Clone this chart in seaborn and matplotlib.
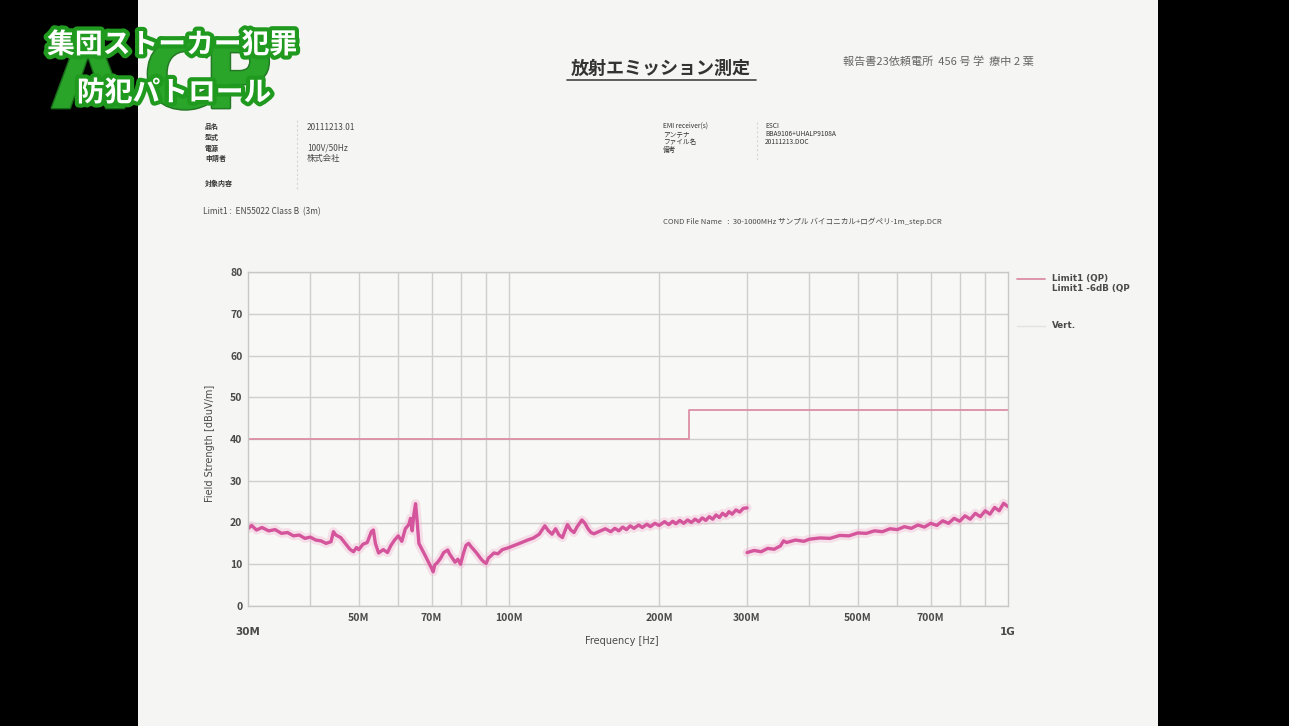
import numpy as np
import pandas as pd
import matplotlib
matplotlib.use("Agg")
import matplotlib.pyplot as plt
import seaborn as sns
from matplotlib import patheffects as pe
from matplotlib.patches import Rectangle
from matplotlib.lines import Line2D
import matplotlib.transforms as mtrans

# ---------------- data ----------------
seg1_freq = [30, 30.5, 31.2, 32, 33, 34, 35, 36, 37, 38, 39, 40, 41, 42, 43, 44,
             44.5, 45, 46, 47, 48, 48.8, 49.5, 50, 51, 52, 53, 53.5, 54, 54.8, 56,
             57.1, 58, 59, 60, 61, 62, 63, 63.5, 64, 64.5, 65, 65.5, 66, 67, 68, 69,
             70, 70.5, 71, 72, 73, 74, 75.4, 76, 77, 78, 79, 80, 81, 82, 83, 84, 85,
             86, 87, 88, 89, 90, 91, 92, 93.3, 95, 97, 100, 103, 106, 109, 112, 115,
             118, 120, 122, 124, 126, 128, 129, 131, 133, 135, 137, 140, 142, 144,
             146, 148, 152, 156, 160, 163, 166, 169, 172, 175, 178, 182, 185, 189,
             192, 196, 200, 205, 209, 213, 216, 220, 224, 228, 232, 236, 240, 244,
             248, 252, 256, 260, 264, 268, 272, 276, 280, 285, 290, 295, 300]
seg1_level = [18.5, 19.3, 18.2, 18.8, 18.0, 18.3, 17.4, 17.6, 16.8, 17.0, 16.2, 16.5,
              15.8, 15.6, 15.0, 15.4, 17.8, 17.0, 16.4, 15.0, 13.6, 13.0, 14.0, 13.5,
              14.8, 15.2, 17.8, 18.2, 15.0, 12.7, 13.5, 12.8, 14.5, 15.8, 16.8, 15.5,
              18.5, 19.5, 21.0, 18.0, 22.0, 24.5, 20.0, 15.0, 13.5, 12.0, 10.5, 9.0,
              8.2, 9.8, 10.5, 11.5, 12.8, 13.4, 12.5, 11.5, 10.5, 11.2, 10.0, 12.5,
              14.5, 15.0, 14.2, 13.5, 12.8, 12.0, 11.2, 10.6, 10.2, 11.5, 12.0, 12.7,
              12.5, 13.5, 14.0, 14.6, 15.2, 15.8, 16.3, 17.2, 19.2, 18.0, 17.2, 18.5,
              17.0, 16.4, 17.5, 19.5, 18.2, 17.6, 19.0, 20.6, 19.8, 18.5, 17.6, 17.3,
              17.9, 18.5, 17.8, 18.6, 18.0, 18.9, 18.3, 19.2, 18.6, 19.4, 18.8, 19.6,
              19.0, 19.8, 19.3, 20.2, 19.5, 20.3, 19.7, 20.5, 19.8, 20.6, 20.0, 20.8,
              20.2, 21.1, 20.5, 21.4, 20.8, 21.8, 21.2, 22.2, 21.6, 22.6, 22.0, 23.0,
              22.5, 23.4, 23.5]

seg2_freq = [300, 310, 320, 330, 340, 350, 355, 360, 375, 390, 400, 420, 440, 460,
             480, 500, 520, 540, 560, 580, 600, 620, 640, 660, 680, 700, 720, 740,
             760, 780, 800, 820, 840, 860, 880, 900, 920, 940, 960, 980, 1000]
seg2_level = [12.8, 13.3, 13.0, 13.8, 13.6, 14.4, 15.6, 15.2, 15.8, 15.5, 16.0, 16.3,
              16.2, 16.9, 16.8, 17.5, 17.4, 18.0, 17.8, 18.5, 18.3, 19.0, 18.6, 19.4,
              18.9, 19.8, 19.3, 20.4, 19.8, 21.0, 20.3, 21.6, 20.8, 22.2, 21.4, 22.8,
              22.0, 23.6, 22.8, 24.6, 23.8]

limit_freq = [30, 230, 230, 1000]
limit_level = [40, 40, 47, 47]

grid_freqs = [40, 50, 60, 70, 80, 90, 100, 200, 300, 400, 500, 600, 700, 800, 900]
grid_labels = ["", "50M", "", "70M", "", "", "100M", "200M", "300M", "", "500M", "",
               "700M", "", ""]
y_ticks = [0, 10, 20, 30, 40, 50, 60, 70, 80]

# ---------------- figure ----------------
W, H = 1289, 726
sns.set_theme(style="white")
plt.rcParams['font.family'] = ['Noto Sans CJK JP', 'DejaVu Sans']

fig = plt.figure(figsize=(W / 100, H / 100), dpi=100)
fig.patch.set_facecolor('black')
fig.add_artist(Rectangle((138 / W, 0), (1158 - 138) / W, 1, transform=fig.transFigure,
                         facecolor='#f5f5f3', edgecolor='none', zorder=0))

def fx(x):
    return x / W

def fy(y):
    return 1 - y / H

TXT = '#4a4a4a'

ax = fig.add_axes([fx(248), fy(606), 760 / W, 334 / H])
ax.set_facecolor('#f8f8f6')

df1 = pd.DataFrame({'freq': seg1_freq, 'level': seg1_level})
df2 = pd.DataFrame({'freq': seg2_freq, 'level': seg2_level})
dfl = pd.DataFrame({'freq': limit_freq, 'level': limit_level})

for d in (df1, df2):
    sns.lineplot(data=d, x='freq', y='level', ax=ax, color='#f2b0d0', lw=6.5,
                 alpha=0.35, sort=False, estimator=None)
    sns.lineplot(data=d, x='freq', y='level', ax=ax, color='#d4559b', lw=2.4,
                 sort=False, estimator=None)
sns.lineplot(data=dfl, x='freq', y='level', ax=ax, color='#dc8fa6', lw=1.3,
             sort=False, estimator=None)

ax.set_xscale('log')
ax.set_xlim(30, 1000)
ax.set_ylim(0, 80)
ax.set_xticks(grid_freqs)
ax.set_xticks([], minor=True)
ax.set_xticklabels(grid_labels)
ax.set_yticks(y_ticks)
ax.set_yticklabels([str(v) for v in y_ticks])
ax.grid(True, color='#cfcfcd', lw=1.0)
ax.tick_params(axis='both', length=0, labelsize=7.5, labelcolor=TXT)
ax.tick_params(axis='x', pad=5)
ax.tick_params(axis='y', pad=4)
for lab in ax.get_xticklabels() + ax.get_yticklabels():
    lab.set_fontweight('bold')
for s in ax.spines.values():
    s.set_color('#c8c8c6')
    s.set_linewidth(1.0)
ax.set_xlabel('')
ax.set_ylabel('')

trans = mtrans.blended_transform_factory(ax.transData, ax.transAxes)
ax.text(30, -26 / 334, '30M', transform=trans, ha='center', va='center',
        fontsize=7.5, color=TXT, family='DejaVu Sans', fontweight='bold')
ax.text(1000, -26 / 334, '1G', transform=trans, ha='center', va='center',
        fontsize=7.5, color=TXT, family='DejaVu Sans', fontweight='bold')

fig.text(fx(622), fy(641), 'Frequency [Hz]', ha='center', va='center', fontsize=7,
         color=TXT, family='DejaVu Sans')
fig.text(fx(210), fy(443), 'Field Strength [dBuV/m]', ha='center', va='center',
         rotation=90, fontsize=7, color=TXT, family='DejaVu Sans')

# legend
fig.add_artist(Line2D([fx(1017), fx(1045)], [fy(279), fy(279)], color='#dc8fa6', lw=1.3,
                      transform=fig.transFigure))
fig.add_artist(Line2D([fx(1017), fx(1045)], [fy(326), fy(326)], color='#e2e2e0', lw=1.0,
                      transform=fig.transFigure))
fig.text(fx(1052), fy(278), 'Limit1 (QP)', fontsize=6.3, color=TXT, va='center',
         family='DejaVu Sans', fontweight='bold')
fig.text(fx(1052), fy(289), 'Limit1 -6dB (QP', fontsize=6.3, color=TXT, va='center',
         family='DejaVu Sans', fontweight='bold')
fig.text(fx(1052), fy(326), 'Vert.', fontsize=6.3, color=TXT, va='center',
         family='DejaVu Sans', fontweight='bold')

# header
fig.text(fx(661), fy(68), '放射エミッション測定', ha='center', va='center', fontsize=13,
         fontweight='bold', color='#333333')
fig.add_artist(Line2D([fx(567), fx(756)], [fy(80), fy(80)], color='#444444', lw=1.2,
                      transform=fig.transFigure))
fig.text(fx(843), fy(62), '報告書23依頼電所  456 号 学  療中 2 葉', ha='left', va='center',
         fontsize=8, color='#666666')

left_labels = [('品名', 127), ('型式', 137), ('電源', 148), ('申請者', 158), ('対象内容', 183)]
for t, y in left_labels:
    fig.text(fx(205), fy(y), t, ha='left', va='center', fontsize=5, color='#333333',
             fontweight='bold')
left_vals = [('20111213.01', 127), ('100V/50Hz', 148), ('株式会社', 158)]
for t, y in left_vals:
    fig.text(fx(307), fy(y), t, ha='left', va='center', fontsize=6, color=TXT)
fig.add_artist(Line2D([fx(297), fx(297)], [fy(120), fy(190)], color='#d5d5d3', lw=0.8,
                      ls=(0, (2, 2)), transform=fig.transFigure))
fig.text(fx(203), fy(212), 'Limit1 :  EN55022 Class B  (3m)', ha='left', va='center',
         fontsize=6, color=TXT)

right_labels = [('EMI receiver(s)', 126), ('アンテナ', 134), ('ファイル名', 142), ('備考', 150)]
for t, y in right_labels:
    fig.text(fx(663), fy(y), t, ha='left', va='center', fontsize=4.8, color='#333333')
right_vals = [('ESCI', 126), ('BBA9106+UHALP9108A', 134), ('20111213.DOC', 142)]
for t, y in right_vals:
    fig.text(fx(765), fy(y), t, ha='left', va='center', fontsize=4.8, color='#333333')
fig.add_artist(Line2D([fx(757), fx(757)], [fy(122), fy(160)], color='#d5d5d3', lw=0.8,
                      ls=(0, (2, 2)), transform=fig.transFigure))
fig.text(fx(663), fy(222), 'COND File Name   :  30-1000MHz サンプル バイコニカル+ログペリ-1m_step.DCR',
         ha='left', va='center', fontsize=5.5, color=TXT)

# logo overlay
for ch, x in (('A', 88), ('C', 178), ('P', 238)):
    fig.text(fx(x), fy(82), ch, ha='center', va='center', fontsize=68, fontweight='bold',
             color='#2aa52a', family='DejaVu Sans', alpha=0.95,
             path_effects=[pe.withStroke(linewidth=2, foreground='#187018')])
stroke = [pe.withStroke(linewidth=6, foreground='#1f9a1f')]
fig.text(fx(172), fy(45), '集団ストーカー犯罪', ha='center', va='center', fontsize=20,
         fontweight='bold', color='white', path_effects=stroke)
fig.text(fx(174), fy(93), '防犯パトロール', ha='center', va='center', fontsize=20,
         fontweight='bold', color='white', path_effects=stroke)

fig.savefig('out.png', dpi=100, facecolor=fig.get_facecolor())
